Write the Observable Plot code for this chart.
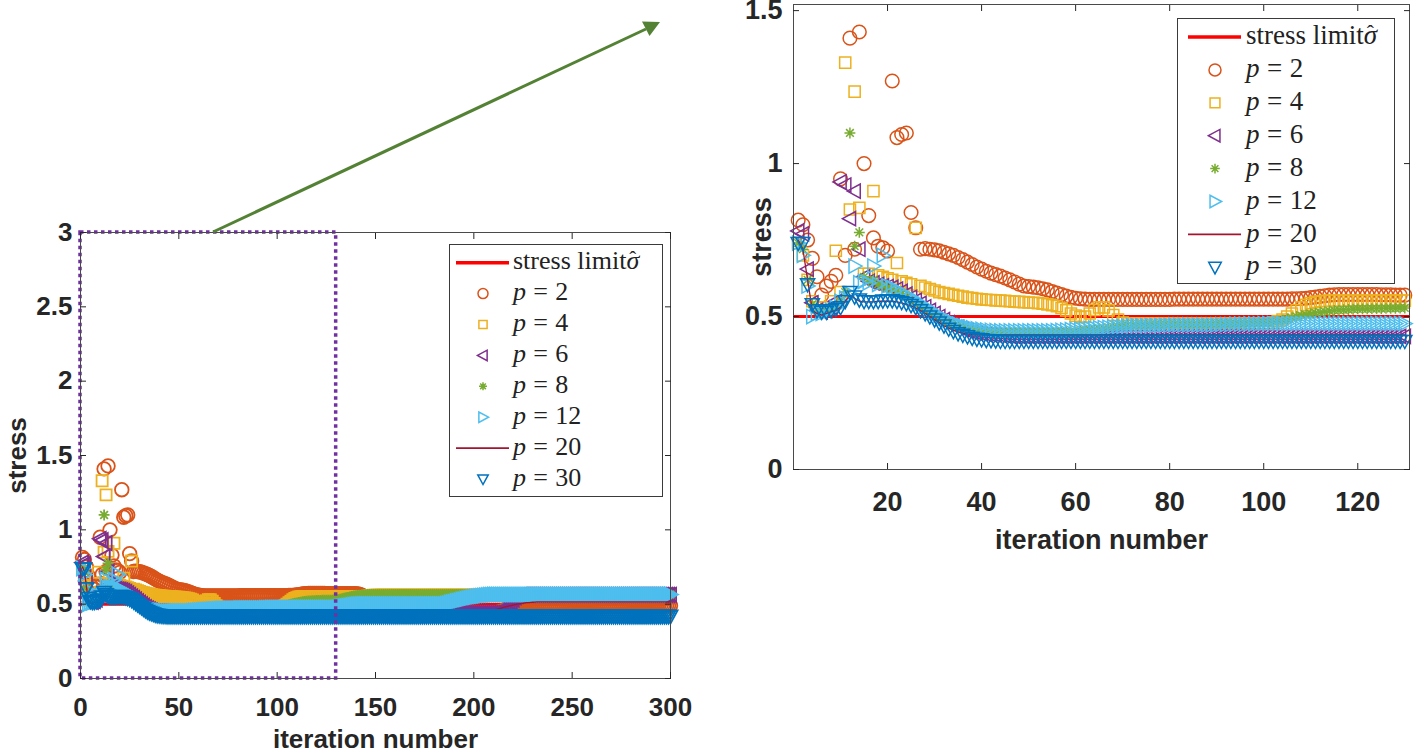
<!DOCTYPE html>
<html><head><meta charset="utf-8">
<script src="https://cdn.jsdelivr.net/npm/d3@7"></script>
<script src="https://cdn.jsdelivr.net/npm/@observablehq/plot@0.6"></script>
<style>
html,body{margin:0;padding:0;background:#fff;}
#root{position:relative;width:1419px;height:753px;overflow:hidden;background:#fff;}
.panel{position:absolute;top:0;}
.legend{position:absolute;border:1px solid #3a3a3a;background:#fff;box-sizing:border-box;font-family:"Liberation Serif","Times New Roman",serif;color:#222;}
.legend svg{position:absolute;left:0;top:0;overflow:visible;}
.legend .lbl{position:absolute;line-height:1;white-space:nowrap;}
.hat{position:relative;display:inline-block;}
.hat .cf{position:absolute;left:0.14em;top:0.02em;font-style:normal;font-size:0.8em;line-height:1;}
#overlay{position:absolute;left:0;top:0;pointer-events:none;}
</style></head><body><div id="root"></div>
<script>
// ---------------- data (stress per iteration, iteration = index + 1) ----------------
const stressLimit = 0.5;
const pValues = [2, 4, 6, 8, 12, 20, 30];
const seriesColors = ["#D95319", "#EDB120", "#7E2F8E", "#77AC30", "#4DBEEE", "#A2142F", "#0072BD"];
const leftXTicks = [0, 50, 100, 150, 200, 250, 300];
const leftYTicks = [0, 0.5, 1, 1.5, 2, 2.5, 3];
const rightXTicks = [20, 40, 60, 80, 100, 120];
const rightYTicks = [0, 0.5, 1, 1.5];
const zoomBoxIterations = [0, 130];
const zoomBoxStress = [0, 3];

const stressP2 = [
0.815,0.80,0.75,0.69,0.63,0.57,0.60,0.615,0.635,0.95,
0.70,1.41,0.72,1.43,1.00,0.83,0.757,0.73,0.725,0.714,
1.27,1.085,1.095,1.10,0.84,0.79,0.72,0.722,0.72,0.718,
0.715,0.71,0.705,0.70,0.693,0.686,0.678,0.67,0.662,0.655,
0.648,0.642,0.637,0.632,0.626,0.62,0.613,0.606,0.60,0.598,
0.596,0.594,0.591,0.587,0.582,0.577,0.572,0.567,0.563,0.56,
0.558,0.557,0.556,0.556,0.556,0.556,0.556,0.556,0.556,0.556,
0.556,0.556,0.556,0.556,0.556,0.556,0.556,0.556,0.556,0.556,
0.557,0.557,0.557,0.557,0.557,0.557,0.557,0.557,0.557,0.557,
0.557,0.557,0.557,0.557,0.557,0.557,0.557,0.557,0.557,0.557,
0.557,0.557,0.557,0.557,0.557,0.558,0.558,0.559,0.56,0.562,
0.564,0.566,0.568,0.57,0.571,0.572,0.572,0.572,0.572,0.572,
0.572,0.572,0.572,0.572,0.571,0.571,0.571,0.57,0.57,0.57,
0.57,0.57,0.57,0.57,0.57,0.57,0.57,0.57,0.57,0.57,
0.568,0.565,0.56,0.553,0.545,0.535,0.525,0.515,0.505,0.495,
0.485,0.475,0.465,0.455,0.448,0.443,0.44,0.44,0.44,0.44,
0.44,0.44,0.44,0.44,0.44,0.44,0.44,0.44,0.44,0.44,
0.44,0.44,0.44,0.44,0.44,0.44,0.44,0.44,0.44,0.44,
0.44,0.44,0.44,0.44,0.44,0.44,0.44,0.44,0.44,0.44,
0.44,0.44,0.44,0.44,0.44,0.44,0.44,0.44,0.44,0.44,
0.44,0.44,0.44,0.44,0.44,0.44,0.44,0.44,0.44,0.44,
0.442,0.445,0.448,0.452,0.456,0.46,0.463,0.466,0.469,0.472,
0.474,0.476,0.478,0.48,0.482,0.483,0.484,0.485,0.486,0.487,
0.488,0.488,0.488,0.488,0.488,0.488,0.488,0.488,0.488,0.488,
0.489,0.489,0.489,0.489,0.489,0.489,0.489,0.489,0.489,0.489,
0.49,0.49,0.49,0.49,0.49,0.49,0.49,0.49,0.49,0.49,
0.49,0.49,0.49,0.49,0.49,0.49,0.49,0.49,0.49,0.49,
0.49,0.49,0.49,0.49,0.49,0.49,0.49,0.49,0.49,0.49,
0.49,0.49,0.49,0.49,0.49,0.49,0.49,0.49,0.49,0.49,
0.49,0.49,0.49,0.49,0.49,0.49,0.49,0.49,0.49,0.49
];

const stressP4 = [
0.74,0.70,0.62,0.55,0.53,0.52,0.53,0.55,0.715,0.58,
1.33,0.85,1.235,0.855,0.64,0.64,0.91,0.635,0.63,0.625,
0.62,0.675,0.615,0.61,0.605,0.79,0.60,0.595,0.59,0.585,
0.58,0.577,0.574,0.571,0.568,0.565,0.562,0.56,0.558,0.556,
0.555,0.554,0.553,0.552,0.551,0.55,0.549,0.548,0.547,0.546,
0.545,0.544,0.542,0.54,0.537,0.534,0.528,0.52,0.51,0.503,
0.498,0.50,0.51,0.522,0.53,0.53,0.52,0.505,0.49,0.48,
0.478,0.478,0.478,0.478,0.478,0.478,0.478,0.478,0.478,0.478,
0.478,0.478,0.478,0.478,0.478,0.478,0.478,0.478,0.478,0.478,
0.478,0.478,0.478,0.478,0.478,0.478,0.478,0.478,0.478,0.478,
0.478,0.48,0.485,0.49,0.50,0.51,0.52,0.53,0.538,0.544,
0.548,0.55,0.551,0.552,0.552,0.552,0.552,0.552,0.552,0.552,
0.552,0.552,0.552,0.552,0.552,0.552,0.552,0.552,0.552,0.552,
0.552,0.552,0.552,0.552,0.552,0.552,0.552,0.552,0.552,0.552,
0.552,0.552,0.552,0.552,0.552,0.554,0.556,0.558,0.56,0.56,
0.56,0.56,0.56,0.56,0.56,0.56,0.56,0.56,0.56,0.56,
0.56,0.56,0.56,0.56,0.56,0.56,0.56,0.56,0.56,0.56,
0.56,0.56,0.56,0.56,0.56,0.56,0.56,0.56,0.56,0.56,
0.56,0.56,0.56,0.56,0.56,0.56,0.56,0.56,0.56,0.56,
0.56,0.56,0.56,0.56,0.56,0.56,0.56,0.56,0.56,0.56,
0.56,0.56,0.56,0.56,0.56,0.56,0.56,0.56,0.56,0.56,
0.56,0.56,0.56,0.56,0.56,0.56,0.56,0.56,0.56,0.56,
0.56,0.56,0.56,0.56,0.56,0.56,0.56,0.56,0.56,0.56,
0.56,0.56,0.56,0.56,0.56,0.56,0.56,0.56,0.56,0.56,
0.56,0.56,0.56,0.56,0.56,0.56,0.56,0.56,0.56,0.56,
0.56,0.56,0.56,0.56,0.56,0.56,0.56,0.56,0.56,0.56,
0.56,0.56,0.56,0.56,0.56,0.56,0.56,0.56,0.56,0.56,
0.56,0.56,0.56,0.56,0.56,0.56,0.56,0.56,0.56,0.56,
0.56,0.56,0.56,0.56,0.56,0.56,0.56,0.56,0.56,0.56,
0.56,0.56,0.56,0.56,0.56,0.56,0.56,0.56,0.56,0.56
];

const stressP6 = [
0.78,0.77,0.655,0.545,0.52,0.515,0.52,0.53,0.55,0.94,
0.93,0.82,0.91,0.72,0.63,0.615,0.61,0.605,0.60,0.598,
0.595,0.59,0.582,0.573,0.563,0.553,0.543,0.532,0.52,0.51,
0.50,0.49,0.48,0.472,0.465,0.458,0.452,0.448,0.445,0.443,
0.441,0.44,0.439,0.438,0.437,0.436,0.435,0.435,0.435,0.435,
0.435,0.435,0.435,0.435,0.435,0.435,0.435,0.435,0.435,0.435,
0.435,0.435,0.435,0.435,0.435,0.435,0.435,0.435,0.435,0.435,
0.435,0.435,0.435,0.435,0.435,0.435,0.435,0.435,0.435,0.435,
0.435,0.435,0.435,0.435,0.435,0.435,0.435,0.435,0.435,0.435,
0.435,0.435,0.435,0.435,0.435,0.435,0.435,0.435,0.435,0.435,
0.435,0.435,0.435,0.435,0.435,0.435,0.435,0.435,0.435,0.435,
0.435,0.435,0.435,0.435,0.435,0.435,0.435,0.435,0.435,0.435,
0.435,0.435,0.435,0.435,0.435,0.435,0.435,0.435,0.435,0.435,
0.435,0.435,0.435,0.435,0.435,0.435,0.435,0.435,0.435,0.435,
0.435,0.435,0.435,0.435,0.435,0.435,0.435,0.435,0.435,0.435,
0.435,0.435,0.435,0.435,0.435,0.435,0.435,0.435,0.435,0.435,
0.435,0.435,0.435,0.435,0.435,0.435,0.435,0.435,0.435,0.435,
0.435,0.435,0.435,0.435,0.435,0.435,0.435,0.435,0.435,0.435,
0.435,0.436,0.437,0.438,0.439,0.44,0.44,0.44,0.44,0.44,
0.44,0.44,0.44,0.44,0.44,0.44,0.44,0.44,0.44,0.44,
0.44,0.44,0.44,0.44,0.44,0.44,0.44,0.44,0.44,0.44,
0.44,0.44,0.44,0.44,0.44,0.45,0.47,0.49,0.51,0.53,
0.545,0.555,0.56,0.562,0.563,0.563,0.563,0.563,0.563,0.563,
0.563,0.563,0.563,0.563,0.563,0.563,0.563,0.563,0.563,0.563,
0.563,0.563,0.563,0.563,0.563,0.563,0.563,0.563,0.563,0.563,
0.563,0.563,0.563,0.563,0.563,0.563,0.563,0.563,0.563,0.563,
0.563,0.563,0.563,0.563,0.563,0.563,0.563,0.563,0.563,0.563,
0.563,0.563,0.563,0.563,0.563,0.563,0.563,0.563,0.563,0.563,
0.563,0.563,0.563,0.563,0.563,0.563,0.563,0.563,0.563,0.563,
0.563,0.563,0.563,0.563,0.563,0.563,0.563,0.563,0.563,0.563
];

const stressP8 = [
0.74,0.72,0.62,0.54,0.52,0.515,0.52,0.525,0.53,0.55,
0.58,1.10,0.73,0.775,0.63,0.615,0.62,0.605,0.60,0.595,
0.59,0.583,0.575,0.565,0.555,0.545,0.535,0.525,0.515,0.505,
0.497,0.49,0.483,0.477,0.471,0.466,0.462,0.459,0.456,0.454,
0.452,0.451,0.45,0.45,0.45,0.45,0.45,0.45,0.45,0.45,
0.45,0.45,0.45,0.45,0.45,0.45,0.45,0.45,0.45,0.45,
0.452,0.454,0.456,0.458,0.46,0.462,0.464,0.466,0.468,0.47,
0.471,0.471,0.472,0.472,0.472,0.473,0.473,0.473,0.474,0.474,
0.475,0.475,0.475,0.475,0.475,0.475,0.475,0.475,0.475,0.475,
0.476,0.476,0.477,0.477,0.478,0.478,0.478,0.479,0.479,0.48,
0.48,0.482,0.485,0.488,0.492,0.496,0.50,0.503,0.506,0.509,
0.512,0.514,0.516,0.518,0.52,0.521,0.522,0.523,0.524,0.525,
0.525,0.525,0.526,0.526,0.526,0.527,0.527,0.527,0.528,0.528,
0.53,0.533,0.536,0.54,0.543,0.546,0.549,0.552,0.555,0.557,
0.559,0.561,0.562,0.563,0.564,0.565,0.565,0.565,0.565,0.565,
0.565,0.565,0.565,0.565,0.565,0.565,0.565,0.565,0.565,0.565,
0.565,0.565,0.565,0.565,0.565,0.565,0.565,0.565,0.565,0.565,
0.565,0.565,0.565,0.565,0.565,0.565,0.565,0.565,0.565,0.565,
0.565,0.565,0.565,0.565,0.565,0.565,0.565,0.565,0.565,0.565,
0.565,0.565,0.565,0.565,0.565,0.565,0.565,0.565,0.565,0.565,
0.565,0.565,0.565,0.565,0.565,0.565,0.565,0.565,0.565,0.565,
0.565,0.565,0.565,0.565,0.565,0.565,0.565,0.565,0.565,0.565,
0.565,0.565,0.565,0.565,0.565,0.565,0.565,0.565,0.565,0.565,
0.565,0.565,0.565,0.565,0.565,0.565,0.565,0.565,0.565,0.565,
0.565,0.565,0.565,0.565,0.565,0.565,0.565,0.565,0.565,0.565,
0.565,0.565,0.565,0.565,0.565,0.565,0.565,0.565,0.565,0.565,
0.565,0.565,0.565,0.565,0.565,0.565,0.565,0.565,0.565,0.565,
0.565,0.565,0.565,0.565,0.565,0.565,0.565,0.565,0.565,0.565,
0.565,0.565,0.565,0.565,0.565,0.565,0.565,0.565,0.565,0.565,
0.565,0.565,0.565,0.565,0.565,0.565,0.565,0.565,0.565,0.565
];

const stressP12 = [
0.74,0.70,0.60,0.50,0.51,0.51,0.515,0.52,0.53,0.55,
0.56,0.575,0.665,0.61,0.615,0.61,0.665,0.605,0.70,0.60,
0.595,0.588,0.58,0.572,0.563,0.553,0.543,0.533,0.523,0.513,
0.503,0.495,0.488,0.481,0.475,0.47,0.466,0.463,0.46,0.458,
0.456,0.455,0.454,0.453,0.453,0.453,0.453,0.453,0.453,0.453,
0.453,0.453,0.453,0.453,0.453,0.454,0.455,0.456,0.457,0.458,
0.459,0.46,0.461,0.462,0.463,0.464,0.465,0.466,0.467,0.468,
0.469,0.47,0.47,0.47,0.47,0.471,0.471,0.471,0.472,0.472,
0.473,0.473,0.473,0.473,0.473,0.473,0.473,0.473,0.473,0.473,
0.474,0.474,0.474,0.475,0.475,0.475,0.476,0.476,0.476,0.477,
0.477,0.477,0.477,0.477,0.477,0.477,0.477,0.477,0.477,0.477,
0.477,0.477,0.477,0.477,0.477,0.477,0.477,0.477,0.477,0.477,
0.477,0.477,0.477,0.477,0.477,0.477,0.477,0.477,0.477,0.477,
0.479,0.481,0.483,0.485,0.487,0.489,0.491,0.493,0.495,0.497,
0.498,0.499,0.50,0.50,0.50,0.50,0.50,0.50,0.50,0.50,
0.50,0.50,0.50,0.50,0.50,0.50,0.50,0.50,0.50,0.50,
0.50,0.50,0.50,0.50,0.50,0.50,0.50,0.50,0.50,0.50,
0.50,0.50,0.50,0.50,0.50,0.50,0.50,0.50,0.50,0.50,
0.50,0.50,0.50,0.50,0.50,0.503,0.506,0.51,0.513,0.516,
0.52,0.523,0.526,0.53,0.533,0.536,0.539,0.542,0.545,0.547,
0.55,0.552,0.554,0.556,0.558,0.56,0.561,0.562,0.563,0.564,
0.565,0.565,0.565,0.565,0.565,0.565,0.565,0.565,0.565,0.565,
0.565,0.565,0.565,0.565,0.565,0.565,0.565,0.565,0.565,0.565,
0.565,0.565,0.565,0.565,0.565,0.565,0.565,0.565,0.565,0.565,
0.565,0.565,0.565,0.565,0.565,0.565,0.565,0.565,0.565,0.565,
0.565,0.565,0.565,0.565,0.565,0.565,0.565,0.565,0.565,0.565,
0.565,0.565,0.565,0.565,0.565,0.565,0.565,0.565,0.565,0.565,
0.565,0.565,0.565,0.565,0.565,0.565,0.565,0.565,0.565,0.565,
0.565,0.565,0.565,0.565,0.565,0.565,0.565,0.565,0.565,0.565,
0.565,0.565,0.565,0.565,0.565,0.565,0.565,0.565,0.565,0.565
];

const stressP20 = [
0.75,0.72,0.62,0.52,0.51,0.505,0.51,0.515,0.52,0.53,
0.55,0.57,0.56,0.55,0.548,0.548,0.548,0.55,0.55,0.55,
0.55,0.548,0.545,0.54,0.535,0.528,0.52,0.51,0.50,0.49,
0.48,0.47,0.462,0.455,0.45,0.446,0.443,0.441,0.44,0.44,
0.44,0.44,0.44,0.44,0.44,0.44,0.44,0.44,0.44,0.44,
0.44,0.44,0.44,0.44,0.44,0.44,0.44,0.44,0.44,0.44,
0.44,0.44,0.44,0.44,0.44,0.44,0.44,0.44,0.44,0.44,
0.44,0.44,0.44,0.44,0.44,0.44,0.44,0.44,0.44,0.44,
0.44,0.44,0.44,0.44,0.44,0.44,0.44,0.44,0.44,0.44,
0.44,0.44,0.44,0.44,0.44,0.44,0.44,0.44,0.44,0.44,
0.44,0.44,0.44,0.44,0.44,0.44,0.44,0.44,0.44,0.44,
0.44,0.44,0.44,0.44,0.44,0.44,0.44,0.44,0.44,0.44,
0.44,0.44,0.44,0.44,0.44,0.44,0.44,0.44,0.44,0.44,
0.44,0.44,0.44,0.44,0.44,0.44,0.44,0.44,0.44,0.44,
0.44,0.44,0.44,0.44,0.44,0.44,0.44,0.44,0.44,0.44,
0.44,0.44,0.44,0.44,0.44,0.44,0.44,0.44,0.44,0.44,
0.44,0.44,0.44,0.44,0.44,0.44,0.44,0.44,0.44,0.44,
0.44,0.44,0.44,0.44,0.44,0.44,0.44,0.44,0.44,0.44,
0.44,0.44,0.44,0.44,0.44,0.44,0.44,0.44,0.44,0.44,
0.44,0.44,0.44,0.44,0.44,0.44,0.44,0.44,0.44,0.44,
0.44,0.44,0.44,0.44,0.44,0.443,0.446,0.45,0.454,0.458,
0.462,0.466,0.47,0.474,0.478,0.482,0.485,0.488,0.491,0.494,
0.497,0.50,0.502,0.504,0.506,0.508,0.51,0.511,0.512,0.513,
0.514,0.515,0.515,0.515,0.515,0.515,0.515,0.515,0.515,0.515,
0.515,0.515,0.515,0.515,0.515,0.515,0.515,0.515,0.515,0.515,
0.515,0.515,0.515,0.515,0.515,0.515,0.515,0.515,0.515,0.515,
0.515,0.515,0.515,0.515,0.515,0.515,0.515,0.515,0.515,0.515,
0.515,0.515,0.515,0.515,0.515,0.515,0.515,0.515,0.515,0.515,
0.515,0.515,0.515,0.515,0.515,0.515,0.515,0.515,0.515,0.515,
0.515,0.515,0.515,0.515,0.515,0.515,0.515,0.515,0.515,0.515
];

const stressP30 = [
0.74,0.74,0.605,0.54,0.52,0.515,0.515,0.52,0.525,0.53,
0.55,0.58,0.565,0.555,0.55,0.55,0.55,0.55,0.552,0.553,
0.553,0.55,0.547,0.543,0.537,0.53,0.52,0.51,0.50,0.49,
0.48,0.47,0.46,0.452,0.445,0.44,0.435,0.43,0.427,0.425,
0.423,0.422,0.421,0.42,0.42,0.42,0.42,0.42,0.42,0.42,
0.42,0.42,0.42,0.42,0.42,0.42,0.42,0.42,0.42,0.42,
0.42,0.42,0.42,0.42,0.42,0.42,0.42,0.42,0.42,0.42,
0.42,0.42,0.42,0.42,0.42,0.42,0.42,0.42,0.42,0.42,
0.42,0.42,0.42,0.42,0.42,0.42,0.42,0.42,0.42,0.42,
0.42,0.42,0.42,0.42,0.42,0.42,0.42,0.42,0.42,0.42,
0.42,0.42,0.42,0.42,0.42,0.42,0.42,0.42,0.42,0.42,
0.42,0.42,0.42,0.42,0.42,0.42,0.42,0.42,0.42,0.42,
0.42,0.42,0.42,0.42,0.42,0.42,0.42,0.42,0.42,0.42,
0.42,0.42,0.42,0.42,0.42,0.42,0.42,0.42,0.42,0.42,
0.42,0.42,0.42,0.42,0.42,0.42,0.42,0.42,0.42,0.42,
0.42,0.42,0.42,0.42,0.42,0.42,0.42,0.42,0.42,0.42,
0.42,0.42,0.42,0.42,0.42,0.42,0.42,0.42,0.42,0.42,
0.42,0.42,0.42,0.42,0.42,0.42,0.42,0.42,0.42,0.42,
0.42,0.42,0.42,0.42,0.42,0.42,0.42,0.42,0.42,0.42,
0.42,0.42,0.42,0.42,0.42,0.42,0.42,0.42,0.42,0.42,
0.42,0.42,0.42,0.42,0.42,0.42,0.42,0.42,0.42,0.42,
0.42,0.42,0.42,0.42,0.42,0.42,0.42,0.42,0.42,0.42,
0.42,0.42,0.42,0.42,0.42,0.42,0.42,0.42,0.42,0.42,
0.42,0.42,0.42,0.42,0.42,0.42,0.42,0.42,0.42,0.42,
0.42,0.42,0.42,0.42,0.42,0.42,0.42,0.42,0.42,0.42,
0.42,0.42,0.42,0.42,0.42,0.42,0.42,0.42,0.42,0.42,
0.42,0.42,0.42,0.42,0.42,0.42,0.42,0.42,0.42,0.42,
0.42,0.42,0.42,0.42,0.42,0.42,0.42,0.42,0.42,0.42,
0.42,0.42,0.42,0.42,0.42,0.42,0.42,0.42,0.42,0.42,
0.42,0.42,0.42,0.42,0.42,0.42,0.42,0.42,0.42,0.42
];

// ---------------- symbols (MATLAB-like markers) ----------------
const rad = (size) => Math.sqrt(size / Math.PI);
const symSquare = {draw(c, s) { const r = rad(s) * 0.82; c.rect(-r, -r, 2 * r, 2 * r); }};
const symTriLeft = {draw(c, s) { const r = rad(s) * 1.1; c.moveTo(-r, 0); c.lineTo(r * 0.75, -r * 0.95); c.lineTo(r * 0.75, r * 0.95); c.closePath(); }};
const symTriRight = {draw(c, s) { const r = rad(s) * 1.1; c.moveTo(r, 0); c.lineTo(-r * 0.75, -r * 0.95); c.lineTo(-r * 0.75, r * 0.95); c.closePath(); }};
const symTriDown = {draw(c, s) { const r = rad(s) * 1.1; c.moveTo(0, r); c.lineTo(-r * 0.95, -r * 0.75); c.lineTo(r * 0.95, -r * 0.75); c.closePath(); }};
const symStar = {draw(c, s) { const r = rad(s) * 0.8; for (const a of [0, 45, 90, 135]) { const t = a * Math.PI / 180; c.moveTo(-r * Math.cos(t), -r * Math.sin(t)); c.lineTo(r * Math.cos(t), r * Math.sin(t)); } }};

const seriesValues = [stressP2, stressP4, stressP6, stressP8, stressP12, stressP20, stressP30];
const seriesSymbols = ["circle", symSquare, symTriLeft, symStar, symTriRight, null, symTriDown];

const rowsOf = (arr, maxIter) => arr.slice(0, maxIter).map((v, i) => ({iteration: i + 1, stress: v}));

const SANS = "Liberation Sans, Arial, Helvetica, sans-serif";

function makePanel(cfg) {
  const marks = [Plot.ruleY([stressLimit], {stroke: "#FF0000", strokeWidth: 3})];
  seriesValues.forEach((vals, k) => {
    const data = rowsOf(vals, cfg.maxIter);
    if (seriesSymbols[k] === null) {
      marks.push(Plot.line(data, {x: "iteration", y: "stress", stroke: seriesColors[k], strokeWidth: 1.3}));
    } else {
      marks.push(Plot.dot(data, {x: "iteration", y: "stress", stroke: seriesColors[k], fill: "none",
        symbol: seriesSymbols[k], r: cfg.r, strokeWidth: cfg.sw}));
    }
  });
  marks.push(...cfg.extra);
  marks.push(
    Plot.frame({stroke: "#4a4a4a", strokeWidth: 1}),
    Plot.axisX({anchor: "bottom", ticks: cfg.xTicks, tickSize: -6, tickPadding: cfg.xPad, label: null,
      fontSize: cfg.fs, fontWeight: "bold", fontFamily: SANS, color: "#262626"}),
    Plot.axisX({anchor: "top", ticks: cfg.xTicks, tickSize: -6, tickFormat: () => "", label: null, color: "#262626"}),
    Plot.axisY({anchor: "left", ticks: cfg.yTicks, tickSize: -6, tickPadding: cfg.yPad, label: null,
      fontSize: cfg.fs, fontWeight: "bold", fontFamily: SANS, color: "#262626", tickFormat: d => String(d)}),
    Plot.axisY({anchor: "right", ticks: cfg.yTicks, tickSize: -6, tickFormat: () => "", label: null, color: "#262626"}),
    Plot.text(["iteration number"], {text: d => d, frameAnchor: "bottom", dy: cfg.xLabDy, lineAnchor: "middle",
      textAnchor: "middle", fontSize: cfg.lfs, fontWeight: "bold", fontFamily: SANS, fill: "#262626"}),
    Plot.text(["stress"], {text: d => d, frameAnchor: "left", dx: cfg.yLabDx, rotate: -90, lineAnchor: "middle",
      textAnchor: "middle", fontSize: cfg.lfs, fontWeight: "bold", fontFamily: SANS, fill: "#262626"})
  );
  return Plot.plot({
    width: cfg.width, height: cfg.height,
    marginLeft: cfg.ml, marginRight: cfg.mr, marginTop: cfg.mt, marginBottom: cfg.mb,
    x: {domain: cfg.xDomain}, y: {domain: cfg.yDomain},
    style: {overflow: "visible", background: "transparent", maxWidth: "none"},
    marks
  });
}

const root = document.getElementById("root");

const left = makePanel({
  width: 700, height: 753, ml: 80, mr: 30, mt: 232, mb: 75,
  xDomain: [0, 300], yDomain: [0, 3], xTicks: leftXTicks, yTicks: leftYTicks,
  maxIter: 300, r: 6.8, sw: 1.8, fs: 26, lfs: 26, xPad: 25, yPad: 14, xLabDy: 61, yLabDx: -63,
  extra: [Plot.rect([{x1: zoomBoxIterations[0], x2: zoomBoxIterations[1], y1: zoomBoxStress[0], y2: zoomBoxStress[1]}],
    {x1: "x1", x2: "x2", y1: "y1", y2: "y2", fill: "none", stroke: "#7030A0", strokeWidth: 3.5, strokeDasharray: "3.5,3.5"})]
});
left.classList.add("panel"); left.style.left = "0px";
root.appendChild(left);

const right = makePanel({
  width: 699, height: 560, ml: 73, mr: 10, mt: 4, mb: 91,
  xDomain: [0, 131], yDomain: [0, 1.52], xTicks: rightXTicks, yTicks: rightYTicks,
  maxIter: 130, r: 6.8, sw: 1.5, fs: 27, lfs: 27, xPad: 28, yPad: 17, xLabDy: 71, yLabDx: -31,
  extra: []
});
right.classList.add("panel"); right.style.left = "720px";
root.appendChild(right);

// ---------------- legends ----------------
function makeLegend(box) {
  const div = document.createElement("div");
  div.className = "legend";
  Object.assign(div.style, {left: box.x + "px", top: box.y + "px", width: box.w + "px", height: box.h + "px", fontSize: box.fs + "px"});
  const svg = d3.create("svg").attr("width", box.w).attr("height", box.h);
  const labels = [];
  const rowsY = d3.range(8).map(k => box.first + k * box.step);
  svg.append("line").attr("x1", box.lx1).attr("x2", box.lx2).attr("y1", rowsY[0]).attr("y2", rowsY[0])
    .attr("stroke", "#FF0000").attr("stroke-width", 3.5);
  labels.push({y: rowsY[0], html: 'stress limit<span class="hat"><i>σ</i><span class="cf">ˆ</span></span>'});
  pValues.forEach((p, k) => {
    const y = rowsY[k + 1];
    if (seriesSymbols[k] === null) {
      svg.append("line").attr("x1", box.lx1).attr("x2", box.lx2).attr("y1", y).attr("y2", y)
        .attr("stroke", seriesColors[k]).attr("stroke-width", 1.6);
    } else if (seriesSymbols[k] === "circle") {
      svg.append("circle").attr("cx", box.sx).attr("cy", y).attr("r", box.r).attr("fill", "none")
        .attr("stroke", seriesColors[k]).attr("stroke-width", 1.5);
    } else {
      svg.append("path").attr("transform", `translate(${box.sx},${y})`)
        .attr("d", d3.symbol(seriesSymbols[k], Math.PI * box.r * box.r)())
        .attr("fill", "none").attr("stroke", seriesColors[k]).attr("stroke-width", 1.5);
    }
    labels.push({y, html: `<i>p</i><span style="margin:0 0.28em">=</span>${p}`});
  });
  div.appendChild(svg.node());
  labels.forEach(l => {
    const s = document.createElement("div");
    s.className = "lbl";
    s.innerHTML = l.html;
    s.style.left = box.tx + "px";
    s.style.top = (l.y - box.fs * 0.55) + "px";
    div.appendChild(s);
  });
  root.appendChild(div);
}
makeLegend({x: 449, y: 244, w: 214, h: 253, fs: 26, first: 17.7, step: 30.9, lx1: 6, lx2: 59, sx: 33, r: 5, tx: 63});
makeLegend({x: 1177, y: 18, w: 218, h: 266, fs: 27, first: 18, step: 32.9, lx1: 10, lx2: 63, sx: 37, r: 6, tx: 68});

// ---------------- arrow annotation ----------------
const ov = d3.create("svg").attr("id", "overlay").attr("width", 1419).attr("height", 753);
ov.append("line").attr("x1", 213).attr("y1", 232).attr("x2", 646).attr("y2", 29)
  .attr("stroke", "#548235").attr("stroke-width", 3);
ov.append("path").attr("d", "M660,22 L649.5,36 L642,21.5 Z").attr("fill", "#548235");
root.appendChild(ov.node());
</script></body></html>
